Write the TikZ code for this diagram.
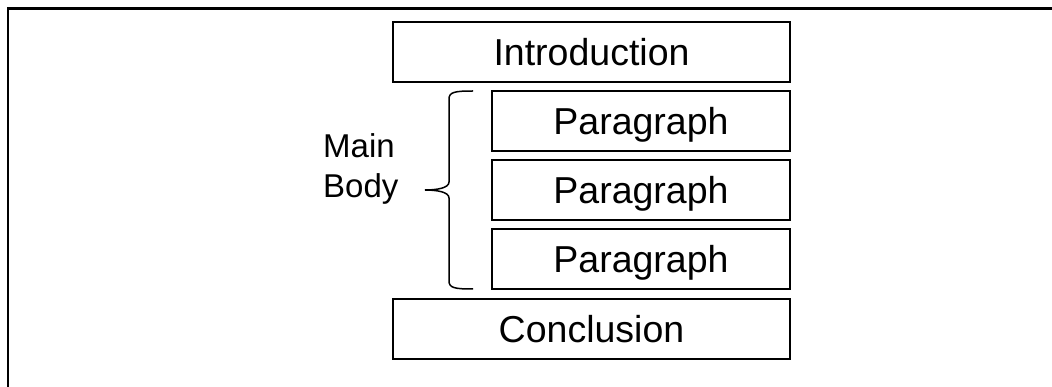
\documentclass[tikz,border=0pt]{standalone}
\usepackage{fontspec}
\setmainfont{Liberation Sans}
\usepackage{tikz}
\usetikzlibrary{positioning, calc}
\newcommand{\blkfont}{\fontsize{37.5}{45}\selectfont}
\newcommand{\lblfont}{\fontsize{33}{40}\selectfont}

\begin{document}
\begin{tikzpicture}[x=1pt, y=-1pt]

	\tikzstyle{blk}=[draw=black, line width=1.5pt, fill=white, font=\blkfont, text height=27pt, text depth=0pt, inner sep=0, outer sep=0, minimum height=60pt];
	\tikzstyle{lbl}=[align=left, font=\lblfont, inner sep=0];

	\useasboundingbox (0,0) rectangle (1052,387);
	\draw [line width=2.2pt] (8,387) |- (1052,8.5);

	\node (intro) [blk, minimum width=397pt, anchor=north west] at (393,22) {Introduction};
	\node (body 1) [blk, minimum width=298pt, below=9pt of intro.south east, anchor=north east] {Paragraph};
	\node (body 2) [blk, minimum width=298pt, below=9pt of body 1.south east, anchor=north east] {Paragraph};
	\node (body 3) [blk, minimum width=298pt, below=9pt of body 2.south east, anchor=north east] {Paragraph};
	\node (concl) [blk, minimum width=397pt, below=10pt of body 3.south east, anchor=north east] {Conclusion};

	\coordinate (brace top) at ($(body 1.north west)+(-19,0)$);
	\coordinate (brace tip) at ($(body 2.west)+(-67,0)$);
	\coordinate (brace bottom) at ($(body 3.south west)+(-19,0)$);
	\node (body label) [lbl, anchor=west] at (323,168.5) {Main\\Body};

	\draw [line width=1.5pt] (brace top) .. controls +(-18,0) and +(0,-7) .. ($(brace top)+(-24,8)$)
		-- ($(brace tip)+(24,-8)$) .. controls +(0,6) and +(12,0) .. (brace tip)
		.. controls +(12,0) and +(0,-6) .. ($(brace tip)+(24,8)$)
		-- ($(brace bottom)+(-24,-8)$) .. controls +(0,7) and +(-18,0) .. (brace bottom);

\end{tikzpicture}
\end{document}
